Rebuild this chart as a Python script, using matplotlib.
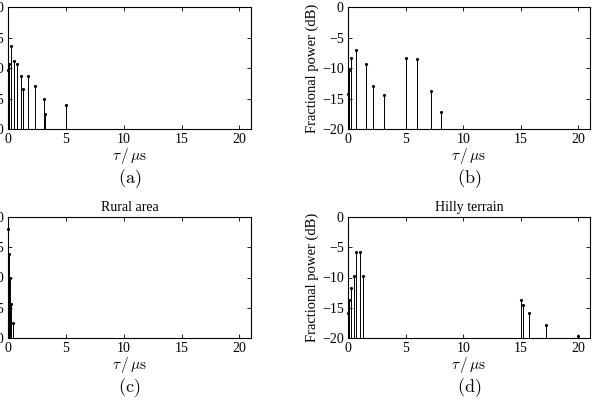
"""COST 207 style power delay profiles, four panels."""

import matplotlib as mpl
import matplotlib.pyplot as plt

mpl.rcParams["font.family"] = "serif"
mpl.rcParams["font.serif"] = ["Liberation Serif", "DejaVu Serif"]
mpl.rcParams["mathtext.fontset"] = "cm"
mpl.rcParams["font.size"] = 10
mpl.rcParams["axes.unicode_minus"] = True

# %% data (delay in us, fractional power in dB)
tu_delay = [0.0, 0.1, 0.3, 0.5, 0.8, 1.1, 1.3, 1.7, 2.3, 3.1, 3.2, 5.0]
tu_power = [-10.4, -9.4, -6.4, -8.9, -9.4, -11.3, -13.4, -11.3, -12.9, -15.0, -17.5, -16.0]

bu_delay = [0.0, 0.1, 0.3, 0.7, 1.6, 2.2, 3.1, 5.0, 6.0, 7.2, 8.1]
bu_power = [-14.3, -10.3, -8.4, -7.1, -9.3, -12.9, -14.5, -8.4, -8.6, -13.8, -17.2]

ra_delay = [0.0, 0.1, 0.2, 0.3, 0.4]
ra_power = [-2.0, -6.1, -10.1, -14.4, -17.5]

ht_delay = [0.0, 0.1, 0.3, 0.5, 0.7, 1.0, 1.3, 15.0, 15.2, 15.7, 17.2, 20.0]
ht_power = [-15.8, -13.7, -11.8, -9.8, -5.8, -5.8, -9.8, -13.7, -14.6, -15.8, -17.8, -19.6]

titles = ["Typical urban", "Bad urban", "Rural area", "Hilly terrain"]
tags = ["(a)", "(b)", "(c)", "(d)"]
panels = [(tu_delay, tu_power), (bu_delay, bu_power),
          (ra_delay, ra_power), (ht_delay, ht_power)]

W, H = 593, 407
fig = plt.figure(figsize=(W / 100, H / 100), dpi=100)

# axes boxes in pixels: left, top, right, bottom
boxes = [(8, 7, 251, 129), (348, 7, 590, 129),
         (8, 217, 251, 338), (348, 217, 590, 338)]

for i, ((x0, y0, x1, y1), (delay, power)) in enumerate(zip(boxes, panels)):
    ax = fig.add_axes([x0 / W, 1 - y1 / H, (x1 - x0) / W, (y1 - y0) / H])
    ax.vlines(delay, -20, power, colors="k", lw=0.7)
    ax.plot(delay, power, "k.", ms=2.5, clip_on=False)
    ax.set_xlim(0, 21)
    ax.set_ylim(-20, 0)
    ax.set_xticks([0, 5, 10, 15, 20])
    ax.set_yticks([-20, -15, -10, -5, 0])
    ax.tick_params(direction="in", top=True, right=True, length=3,
                   width=0.6, labelsize=10, pad=3)
    for s in ax.spines.values():
        s.set_linewidth(0.8)
    ax.set_xlabel(r"$\tau\,/\,\mu\mathrm{s}$", fontsize=11, labelpad=0)
    ax.set_ylabel("Fractional power (dB)", fontsize=10.5, labelpad=2)
    ax.set_title(titles[i], fontsize=10, pad=9 if i < 2 else 4)
    cx = (x0 + x1) / 2 / W
    ty = 1 - (y1 + 50) / H
    fig.text(cx, ty, r"$\mathrm{%s}$" % tags[i], ha="center", va="center",
             fontsize=13)

fig.savefig("out.png", dpi=100)
